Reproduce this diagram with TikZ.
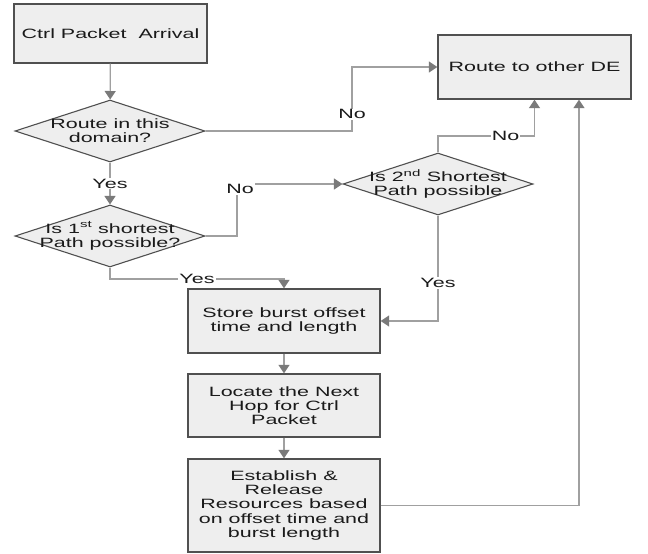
\documentclass[tikz,border=0pt]{standalone}
\usepackage{fontspec}
\setmainfont{Liberation Sans}[FakeStretch=1.59]
\usetikzlibrary{arrows.meta, shapes.geometric}
\usepackage{xcolor}
\definecolor{boxfill}{HTML}{EEEEEE}
\definecolor{boxline}{HTML}{505050}
\definecolor{flowline}{HTML}{A0A0A0}
\definecolor{tipgray}{HTML}{7A7A7A}
\definecolor{inkgray}{HTML}{1A1A1A}

\begin{document}
\begin{tikzpicture}[x=1pt, y=-1pt,
    font=\fontsize{13.5}{14.2}\selectfont,
    procbox/.style={draw=boxline, fill=boxfill, line width=1.3pt, rectangle,
      minimum width=192pt, inner sep=0pt, align=center, text=inkgray},
    decision/.style={draw=boxline, fill=boxfill, line width=1.1pt, diamond,
      minimum width=190pt, minimum height=62pt, inner sep=0pt},
    flow/.style={draw=flowline, line width=1.2pt,
      -{Triangle[width=11pt, length=8.5pt, color=tipgray]}},
    tag/.style={fill=white, inner sep=1pt, text=inkgray}]
      \fill[white] (0,0) rectangle (648,554);

      \node[procbox, minimum width=193pt, minimum height=59pt] (arrival)
        at (110.5,33.5) {Ctrl Packet\ \ Arrival};
      \node[decision, label={[align=center, text=inkgray]center:{Route in this\\domain?}}]
        (domain) at (110,131) {};
      \node[decision, label={[align=center, text=inkgray]center:{Is 1\textsuperscript{st} shortest\\Path possible?}}]
        (first) at (110,236) {};
      \node[decision, label={[align=center, text=inkgray]center:{Is 2\textsuperscript{nd} Shortest\\Path possible}}]
        (second) at (438,184) {};
      \node[procbox, minimum width=193pt, minimum height=64pt] (other)
        at (534.5,67) {Route to other DE};
      \node[procbox, minimum height=64pt] (store)
        at (284,321) {Store burst offset\\time and length};
      \node[procbox, minimum height=63pt] (locate)
        at (284,405.5) {Locate the Next\\Hop for Ctrl\\Packet};
      \node[procbox, minimum height=93pt] (establish)
        at (284,505.5) {Establish \&\\Release\\Resources based\\on offset time and\\burst length};

      \coordinate (domainno) at (352,131);
      \coordinate (firstno) at (237,184);
      \coordinate (secondno) at (438,136);
      \coordinate (firstyes) at (110,279);
      \coordinate (loopback) at (579,505.5);

      \draw[flow] (arrival) -- (domain);
      \draw[flow] (domain) -- node[tag] {Yes} (first);
      \draw[flow] (domain.east) -- (domainno) |- node[tag, pos=0.13] {No} (other.west);
      \draw[flow] (first.east) -| (firstno)
        node[tag, xshift=3pt, yshift=-5pt] {No} -- (second.west);
      \draw[flow] (second.north) -- (secondno) -| node[tag, pos=0.35] {No} (other.south);
      \draw[flow] (second.south) |- node[tag, pos=0.32] {Yes} (store.east);
      \draw[flow] (first.south) -- (firstyes) -| node[tag, pos=0.25] {Yes} (store.north);
      \draw[flow] (store) -- (locate);
      \draw[flow] (locate) -- (establish);
      \draw[flow] (establish.east) -- (loopback) -- (loopback |- other.south);
    \end{tikzpicture}
\end{document}
